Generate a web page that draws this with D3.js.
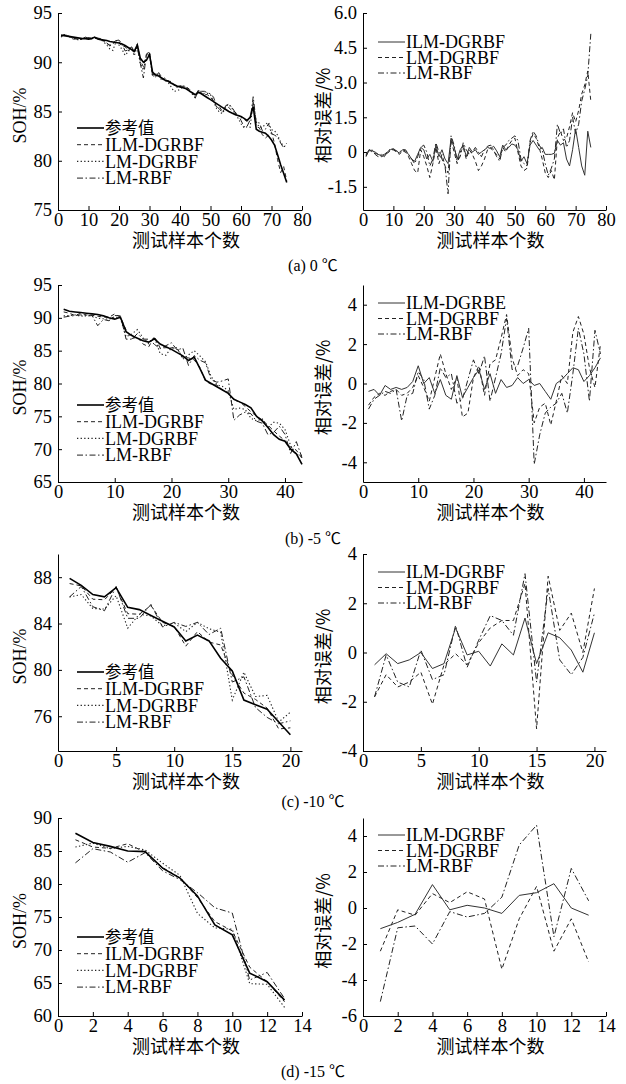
<!DOCTYPE html>
<html>
<head>
<meta charset="utf-8">
<script src="https://cdn.jsdelivr.net/npm/d3@7"></script>
<style>
  body { margin: 0; background: #fff; }
  svg { display: block; }
</style>
</head>
<body>
<div id="chart"></div>
<script>
// ---- data ----
// (a) 0 ℃, 75 test samples
const sohA_ref = [92.75, 92.7, 92.65, 92.6, 92.55, 92.5, 92.45, 92.4, 92.4, 92.35,
  92.4, 92.55, 92.35, 92.3, 92.25, 92.2, 92.1, 92.05, 92.0, 91.95,
  91.85, 91.7, 91.5, 91.3, 91.1, 91.75, 90.4, 90.0, 90.2, 90.8,
  89.0, 88.7, 88.6, 88.4, 88.2, 88.1, 87.9, 87.75, 87.6, 87.5,
  87.4, 87.3, 87.1, 86.9, 86.7, 86.95, 86.8, 86.6, 86.4, 86.2,
  86.0, 85.8, 85.6, 85.4, 85.2, 85.0, 84.85, 84.7, 84.6, 84.5,
  84.3, 84.1, 84.4, 85.5, 83.2, 83.0, 82.9, 82.8, 82.5, 82.1,
  81.6, 80.6, 79.6, 78.7, 77.8];
const sohA_ilm = [92.65, 92.8, 92.7, 92.6, 92.45, 92.35, 92.35, 92.4, 92.5, 92.5,
  92.45, 92.5, 92.45, 92.35, 92.15, 91.9, 91.75, 91.95, 92.2, 92.05,
  91.6, 91.6, 91.15, 91.55, 90.9, 91.85, 90.15, 89.55, 90.75, 91.0,
  88.75, 88.8, 88.85, 88.2, 88.4, 88.1, 88.0, 87.65, 87.6, 87.6,
  87.55, 87.45, 87.3, 86.95, 86.55, 87.2, 86.9, 86.75, 86.7, 86.45,
  86.1, 85.45, 85.45, 84.95, 85.45, 85.4, 85.1, 84.8, 84.75, 84.4,
  84.2, 84.0, 84.35, 85.9, 83.45, 83.35, 82.65, 82.3, 82.6, 82.9,
  81.75, 80.1, 78.8, 79.4, 77.95];
const sohA_lmd = [92.55, 92.8, 92.65, 92.55, 92.45, 92.3, 92.3, 92.35, 92.45, 92.45,
  92.4, 92.45, 92.4, 92.3, 92.05, 91.75, 91.35, 91.2, 92.1, 91.75,
  91.3, 90.7, 91.05, 91.5, 90.65, 91.65, 89.85, 89.2, 90.65, 90.8,
  88.55, 88.7, 88.8, 88.15, 88.3, 88.0, 87.55, 87.05, 87.1, 87.25,
  87.5, 87.45, 87.1, 86.8, 86.45, 87.1, 86.8, 86.85, 86.85, 86.7,
  86.0, 85.3, 84.9, 84.8, 85.55, 85.7, 85.35, 84.85, 84.35, 83.75,
  83.35, 83.45, 83.4, 86.0, 83.95, 83.4, 83.4, 83.7, 83.9, 83.15,
  83.05, 82.6, 81.9, 81.45, 81.5];
const sohA_rbf = [92.6, 92.75, 92.75, 92.5, 92.35, 92.4, 92.25, 92.4, 92.55, 92.45,
  92.45, 92.55, 92.45, 92.4, 92.15, 91.95, 91.65, 91.85, 92.2, 92.25,
  91.85, 91.15, 91.25, 91.65, 91.1, 91.5, 89.85, 88.4, 90.85, 91.05,
  88.65, 88.5, 88.95, 88.5, 88.1, 88.1, 88.05, 87.75, 87.45, 87.6,
  87.6, 87.55, 87.2, 86.75, 86.35, 87.15, 87.05, 87.05, 86.9, 86.8,
  86.45, 85.55, 85.2, 84.9, 85.6, 85.75, 85.45, 84.95, 84.7, 84.1,
  83.45, 83.5, 84.15, 86.5, 83.85, 83.85, 83.05, 83.2, 83.75, 82.75,
  82.6, 82.4, 81.8, 81.3, 81.8];
const errA_ilm = [-0.1, 0.1, 0.05, 0.0, -0.1, -0.15, -0.1, 0.0, 0.1, 0.15,
  0.05, -0.05, 0.1, 0.05, -0.1, -0.3, -0.4, -0.1, 0.2, 0.1,
  -0.3, -0.1, -0.4, 0.3, -0.2, 0.1, -0.3, -0.5, 0.6, 0.2,
  -0.3, 0.1, 0.3, -0.2, 0.2, 0.0, 0.1, -0.1, 0.0, 0.1,
  0.2, 0.15, 0.25, 0.05, -0.2, 0.3, 0.1, 0.2, 0.35, 0.3,
  0.1, -0.4, -0.2, -0.5, 0.3, 0.5, 0.3, 0.1, 0.2, -0.1,
  -0.1, -0.1, -0.05, 0.5, 0.3, 0.4, -0.3, -0.6, 0.1, 1.0,
  0.2, -0.6, -1.0, 0.9, 0.2];
const errA_lmd = [-0.2, 0.1, 0.0, -0.05, -0.1, -0.2, -0.15, -0.05, 0.05, 0.1,
  0.0, -0.1, 0.05, 0.0, -0.2, -0.5, -0.8, -0.9, 0.1, -0.2,
  -0.6, -1.1, -0.5, 0.2, -0.5, -0.1, -0.6, -0.9, 0.5, 0.0,
  -0.5, 0.0, 0.2, -0.3, 0.1, -0.1, -0.4, -0.8, -0.6, -0.3,
  0.1, 0.2, 0.0, -0.1, -0.3, 0.2, 0.0, 0.3, 0.5, 0.6,
  0.0, -0.6, -0.8, -0.7, 0.4, 0.8, 0.6, 0.2, -0.3, -0.9,
  -1.1, -0.8, -1.2, 0.6, 0.9, 0.5, 0.6, 1.1, 1.7, 1.3,
  1.8, 2.5, 2.9, 3.5, 2.2];
const errA_rbf = [-0.15, 0.05, 0.1, -0.1, -0.2, -0.1, -0.2, 0.0, 0.15, 0.1,
  0.05, 0.0, 0.1, 0.1, -0.1, -0.3, -0.5, -0.2, 0.2, 0.3,
  0.0, -0.6, -0.3, 0.4, 0.0, -0.3, -0.6, -1.8, 0.7, 0.3,
  -0.4, -0.2, 0.4, 0.1, -0.1, 0.0, 0.2, 0.0, -0.2, 0.1,
  0.25, 0.3, 0.1, -0.2, -0.4, 0.2, 0.3, 0.5, 0.6, 0.7,
  0.5, -0.3, -0.5, -0.6, 0.5, 0.9, 0.7, 0.3, 0.1, -0.5,
  -1.0, -0.7, -0.3, 1.2, 0.8, 1.0, 0.2, 0.5, 1.5, 0.8,
  1.2, 2.2, 2.7, 3.3, 5.1];

// (b) -5 ℃, 43 test samples
const sohB_ref = [91.3, 91.0, 90.9, 90.8, 90.7, 90.6, 90.5, 90.3, 90.0, 89.8,
  90.1, 87.9, 87.3, 86.9, 86.5, 86.3, 86.8, 86.0, 85.6, 85.2,
  84.7, 84.2, 83.5, 84.0, 82.3, 80.5, 80.0, 79.5, 79.0, 78.5,
  77.6, 77.2, 76.8, 76.3, 75.0, 74.3, 73.3, 72.2, 71.5, 71.2,
  70.0, 69.3, 67.7];
const sohB_ilm = [90.9, 90.7, 90.35, 90.7, 90.45, 90.4, 90.25, 90.1, 90.1, 90.6,
  90.1, 88.15, 86.85, 87.05, 86.0, 85.6, 87.15, 85.4, 85.45, 85.45,
  85.3, 83.95, 83.9, 83.6, 82.45, 80.35, 79.9, 79.75, 79.0, 78.65,
  77.5, 77.2, 76.5, 75.7, 75.0, 74.45, 73.65, 72.8, 72.0, 71.3,
  70.3, 69.85, 68.6];
const sohB_lmd = [90.3, 90.35, 90.45, 90.25, 90.35, 90.35, 89.95, 89.85, 89.8, 90.15,
  89.9, 87.1, 87.55, 88.2, 86.95, 86.05, 87.05, 84.55, 84.3, 85.45,
  85.45, 83.7, 84.35, 85.0, 84.2, 83.3, 81.05, 79.8, 79.55, 78.9,
  76.05, 76.25, 76.05, 74.7, 74.3, 74.6, 73.3, 74.1, 73.95, 73.0,
  70.55, 69.15, 69.05];
const sohB_rbf = [90.1, 90.25, 90.35, 90.45, 90.25, 90.35, 88.8, 89.75, 89.55, 90.35,
  90.3, 86.75, 86.75, 87.6, 86.75, 86.75, 85.95, 85.3, 85.75, 86.2,
  85.1, 85.4, 82.75, 84.25, 83.55, 83.15, 80.55, 80.2, 80.4, 80.7,
  74.4, 75.2, 75.65, 75.4, 74.25, 73.95, 72.2, 72.55, 73.5, 72.25,
  69.35, 71.15, 68.7];
const errB_ilm = [-0.4, -0.3, -0.6, -0.1, -0.3, -0.2, -0.3, -0.2, 0.1, 0.9,
  0.0, 0.3, -0.5, 0.2, -0.6, -0.8, 0.4, -0.7, -0.2, 0.3,
  0.7, -0.3, 0.5, -0.5, 0.2, -0.2, -0.1, 0.3, 0.0, 0.2,
  -0.1, 0.0, -0.4, -0.8, 0.0, 0.2, 0.5, 0.8, 0.7, 0.1,
  0.4, 0.8, 1.3];
const errB_lmd = [-1.1, -0.7, -0.5, -0.6, -0.4, -0.3, -0.6, -0.5, -0.2, 0.4,
  -0.2, -0.9, 0.3, 1.5, 0.5, -0.3, 0.3, -1.7, -1.5, 0.3,
  0.9, -0.6, 1.0, 1.2, 2.3, 3.5, 1.3, 0.4, 0.7, 0.5,
  -2.0, -1.2, -1.0, -2.1, -0.9, 0.4, 0.0, 2.6, 3.4, 2.5,
  0.8, -0.2, 2.0];
const errB_rbf = [-1.3, -0.8, -0.6, -0.4, -0.5, -0.3, -1.9, -0.6, -0.5, 0.6,
  0.2, -1.3, -0.6, 0.8, 0.3, 0.5, -1.0, -0.8, 0.2, 1.2,
  0.5, 1.4, -0.9, 0.3, 1.5, 3.3, 0.7, 0.9, 1.8, 2.8,
  -4.1, -2.6, -1.5, -1.2, -1.0, -0.5, -1.5, 0.5, 2.8, 1.5,
  -0.9, 2.7, 1.5];

// (c) -10 ℃, 20 test samples
const sohC_ref = [87.9, 87.3, 86.5, 86.3, 87.1, 85.4, 85.2, 84.7, 84.2, 83.7, 82.5, 83.0, 82.5, 81.0, 79.9, 77.4, 77.0, 76.6, 75.5, 74.4];
const sohC_ilm = [87.45, 87.25, 86.1, 86.05, 87.1, 84.85, 84.8, 85.55, 84.1, 83.75, 82.05, 83.3, 82.4, 82.15, 79.55, 78.0, 77.45, 76.7, 74.9, 75.0];
const sohC_lmd = [86.3, 86.5, 85.3, 85.25, 86.4, 83.6, 84.8, 84.65, 83.8, 84.05, 83.3, 84.1, 83.55, 83.25, 77.4, 79.8, 77.7, 77.8, 75.5, 76.35];
const sohC_rbf = [86.3, 87.2, 85.45, 85.1, 87.2, 84.45, 84.45, 85.65, 83.7, 84.1, 83.75, 84.1, 83.05, 83.6, 78.95, 79.4, 76.75, 75.9, 75.35, 75.6];
const errC_ilm = [-0.5, -0.05, -0.45, -0.3, 0.0, -0.65, -0.45, 1.0, -0.1, 0.05, -0.55, 0.35, -0.1, 1.4, -0.45, 0.8, 0.6, 0.1, -0.8, 0.8];
const errC_lmd = [-1.8, -0.9, -1.4, -1.2, -0.8, -2.1, -0.5, -0.05, -0.5, 0.4, 1.0, 1.3, 1.3, 2.8, -3.1, 3.1, 0.9, 1.6, 0.0, 2.6];
const errC_rbf = [-1.8, -0.1, -1.2, -1.4, 0.1, -1.1, -0.9, 1.1, -0.6, 0.5, 1.5, 1.3, 0.7, 3.2, -1.2, 2.6, -0.3, -0.9, -0.2, 1.6];

// (d) -15 ℃, 13 test samples
const sohD_ref = [87.7, 86.3, 85.7, 85.0, 84.9, 82.4, 80.9, 78.2, 73.8, 72.3, 66.5, 65.2, 62.4];
const sohD_ilm = [86.7, 85.6, 85.4, 86.1, 84.8, 82.5, 80.9, 77.95, 74.3, 72.9, 67.4, 65.2, 62.15];
const sohD_lmd = [85.6, 86.2, 85.35, 85.7, 85.15, 83.15, 81.3, 75.55, 73.35, 73.15, 64.9, 64.8, 61.3];
const sohD_rbf = [83.2, 85.35, 84.85, 83.3, 84.75, 82.0, 80.65, 78.7, 76.4, 75.6, 65.45, 66.6, 62.65];
const errD_ilm = [-1.15, -0.8, -0.35, 1.3, -0.1, 0.15, 0.0, -0.3, 0.7, 0.85, 1.35, 0.0, -0.4];
const errD_lmd = [-2.4, -0.1, -0.4, 0.8, 0.3, 0.9, 0.5, -3.4, -0.6, 1.2, -2.4, -0.6, -3.0];
const errD_rbf = [-5.2, -1.1, -1.0, -2.0, -0.2, -0.5, -0.3, 0.6, 3.5, 4.6, -1.6, 2.2, 0.4];

// ticks
const xTicksA = [0, 10, 20, 30, 40, 50, 60, 70, 80];
const xTicksB = [0, 10, 20, 30, 40];
const xTicksC = [0, 5, 10, 15, 20];
const xTicksD = [0, 2, 4, 6, 8, 10, 12, 14];
const sohTicksA = [75, 80, 85, 90, 95];
const sohTicksB = [65, 70, 75, 80, 85, 90, 95];
const sohTicksC = [76, 80, 84, 88];
const sohTicksD = [60, 65, 70, 75, 80, 85, 90];
const errTicksA = [-1.5, 0, 1.5, 3.0, 4.5, 6.0];
const errTicksB = [-4, -2, 0, 2, 4];
const errTicksC = [-4, -2, 0, 2, 4];
const errTicksD = [-6, -4, -2, 0, 2, 4];

const leftNames = ["参考值", "ILM-DGRBF", "LM-DGRBF", "LM-RBF"];
const rightNamesA = ["ILM-DGRBF", "LM-DGRBF", "LM-RBF"];
const rightNamesB = ["ILM-DGRBE", "LM-DGRBF", "LM-RBF"];
const captions = ["(a) 0 ℃", "(b) -5 ℃", "(c) -10 ℃", "(d) -15 ℃"];

// ---- drawing ----
const W = 626, H = 1084;
const serif = "'Liberation Serif', 'Times New Roman', 'Noto Sans CJK SC', serif";
const cjk = "'Noto Sans CJK SC', sans-serif";

const styles = {
  ref:     {dash: null, width: 1.6, color: "#000"},
  dashed:  {dash: "4,3", width: 1, color: "#222"},
  dotted:  {dash: "1.3,2.3", width: 1.1, color: "#222"},
  dashdot: {dash: "6,2.5,1.5,2.5", width: 1, color: "#222"},
  thin:    {dash: null, width: 1, color: "#333"}
};

const svg = d3.select("#chart").append("svg")
  .attr("width", W).attr("height", H);
svg.append("rect").attr("width", W).attr("height", H).attr("fill", "#fff");

function drawPanel(p) {
  var x = d3.scaleLinear().domain(p.xDomain).range([p.x0, p.x1]);
  var y = d3.scaleLinear().domain(p.yDomain).range([p.y1, p.y0]);
  var g = svg.append("g");

  var xAxis = d3.axisBottom(x).tickValues(p.xTicks).tickFormat(d => String(d))
    .tickSizeInner(-4).tickSizeOuter(0).tickPadding(3);
  var yAxis = d3.axisLeft(y).tickValues(p.yTicks).tickFormat(p.yFmt)
    .tickSizeInner(-4).tickSizeOuter(0).tickPadding(6);

  var gx = g.append("g").attr("transform", "translate(0," + p.y1 + ")").call(xAxis);
  var gy = g.append("g").attr("transform", "translate(" + p.x0 + ",0)").call(yAxis);
  [gx, gy].forEach(function(a) {
    a.selectAll("text").attr("font-family", serif).attr("font-size", 18.5).attr("fill", "#000");
    a.selectAll("path, line").attr("stroke", "#000").attr("stroke-width", 1);
  });

  var line = d3.line().x((d, i) => x(i + 1)).y(d => y(d));
  p.series.slice().reverse().forEach(function(s) {
    var st = styles[s.style];
    g.append("path").datum(s.values)
      .attr("d", line)
      .attr("fill", "none")
      .attr("stroke", st.color)
      .attr("stroke-width", st.width)
      .attr("stroke-dasharray", st.dash);
  });

  // legend
  p.series.forEach(function(s, i) {
    var st = styles[s.style];
    var ly = p.y0 + p.legTop + i * p.legStep;
    var isCjk = /[\u4e00-\u9fff]/.test(s.name);
    g.append("line")
      .attr("x1", p.x0 + p.legX).attr("x2", p.x0 + p.legX + 27)
      .attr("y1", ly).attr("y2", ly)
      .attr("stroke", st.color).attr("stroke-width", st.width)
      .attr("stroke-dasharray", st.dash);
    g.append("text")
      .attr("x", p.x0 + p.legX + 28).attr("y", ly).attr("dy", "0.35em")
      .attr("font-family", isCjk ? cjk : serif)
      .attr("font-size", isCjk ? 16.5 : 18)
      .text(s.name);
  });

  // axis titles
  g.append("text")
    .attr("x", (p.x0 + p.x1) / 2 + 6).attr("y", p.y1 + 31).attr("dy", "0.35em")
    .attr("text-anchor", "middle").attr("font-family", cjk).attr("font-size", 18)
    .text("测试样本个数");
  g.append("text")
    .attr("transform", "translate(" + p.yTitleX + "," + ((p.y0 + p.y1) / 2 + 4) + ") rotate(-90)")
    .attr("dy", "0.35em").attr("text-anchor", "middle")
    .attr("font-family", p.yTitle === "SOH/%" ? serif : cjk)
    .attr("font-size", 18)
    .text(p.yTitle);
}

const panels = [
  {top: 13, bottom: 210, xd: [0, 80], xdR: [0, 80], xt: xTicksA,
   ref: sohA_ref, ilm: sohA_ilm, lmd: sohA_lmd, rbf: sohA_rbf,
   eI: errA_ilm, eL: errA_lmd, eR: errA_rbf,
   sd: [75, 95], st: sohTicksA, ed: [-2.5, 6.0], et: errTicksA, rn: rightNamesA,
   lt: 115, rt: 29, cap: 265},
  {top: 285, bottom: 482, xd: [0, 43], xdR: [0, 44], xt: xTicksB,
   ref: sohB_ref, ilm: sohB_ilm, lmd: sohB_lmd, rbf: sohB_rbf,
   eI: errB_ilm, eL: errB_lmd, eR: errB_rbf,
   sd: [65, 95], st: sohTicksB, ed: [-5, 5], et: errTicksB, rn: rightNamesB,
   lt: 120, rt: 18, cap: 538},
  {top: 554, bottom: 751, xd: [0, 21], xdR: [0, 21], xt: xTicksC,
   ref: sohC_ref, ilm: sohC_ilm, lmd: sohC_lmd, rbf: sohC_rbf,
   eI: errC_ilm, eL: errC_lmd, eR: errC_rbf,
   sd: [73, 90], st: sohTicksC, ed: [-4, 4], et: errTicksC, rn: rightNamesA,
   lt: 118, rt: 18, cap: 801},
  {top: 818, bottom: 1016, xd: [0, 14], xdR: [0, 14], xt: xTicksD,
   ref: sohD_ref, ilm: sohD_ilm, lmd: sohD_lmd, rbf: sohD_rbf,
   eI: errD_ilm, eL: errD_lmd, eR: errD_rbf,
   sd: [60, 90], st: sohTicksD, ed: [-6, 5], et: errTicksD, rn: rightNamesA,
   lt: 119, rt: 17, cap: 1071}
];

panels.forEach(function(pn, k) {
  drawPanel({
    x0: 58, x1: 302, y0: pn.top, y1: pn.bottom,
    xDomain: pn.xd, yDomain: pn.sd, xTicks: pn.xt, yTicks: pn.st,
    yFmt: d => String(d),
    series: [
      {name: leftNames[0], values: pn.ref, style: "ref"},
      {name: leftNames[1], values: pn.ilm, style: "dashed"},
      {name: leftNames[2], values: pn.lmd, style: "dotted"},
      {name: leftNames[3], values: pn.rbf, style: "dashdot"}
    ],
    legX: 19, legTop: pn.lt, legStep: 16.7,
    yTitle: "SOH/%", yTitleX: 20
  });
  drawPanel({
    x0: 363, x1: 606, y0: pn.top, y1: pn.bottom,
    xDomain: pn.xdR, yDomain: pn.ed, xTicks: pn.xt, yTicks: pn.et,
    yFmt: k === 0 ? (d => d === 0 ? "0" : d.toFixed(1)) : (d => String(d)),
    series: [
      {name: pn.rn[0], values: pn.eI, style: "thin"},
      {name: pn.rn[1], values: pn.eL, style: "dashed"},
      {name: pn.rn[2], values: pn.eR, style: "dashdot"}
    ],
    legX: 15, legTop: pn.rt, legStep: 15.5,
    yTitle: "相对误差/%", yTitleX: 324
  });
  svg.append("text")
    .attr("x", 313).attr("y", pn.cap).attr("dy", "0.35em")
    .attr("text-anchor", "middle").attr("font-family", serif).attr("font-size", 16)
    .text(captions[k]);
});
</script>
</body>
</html>
